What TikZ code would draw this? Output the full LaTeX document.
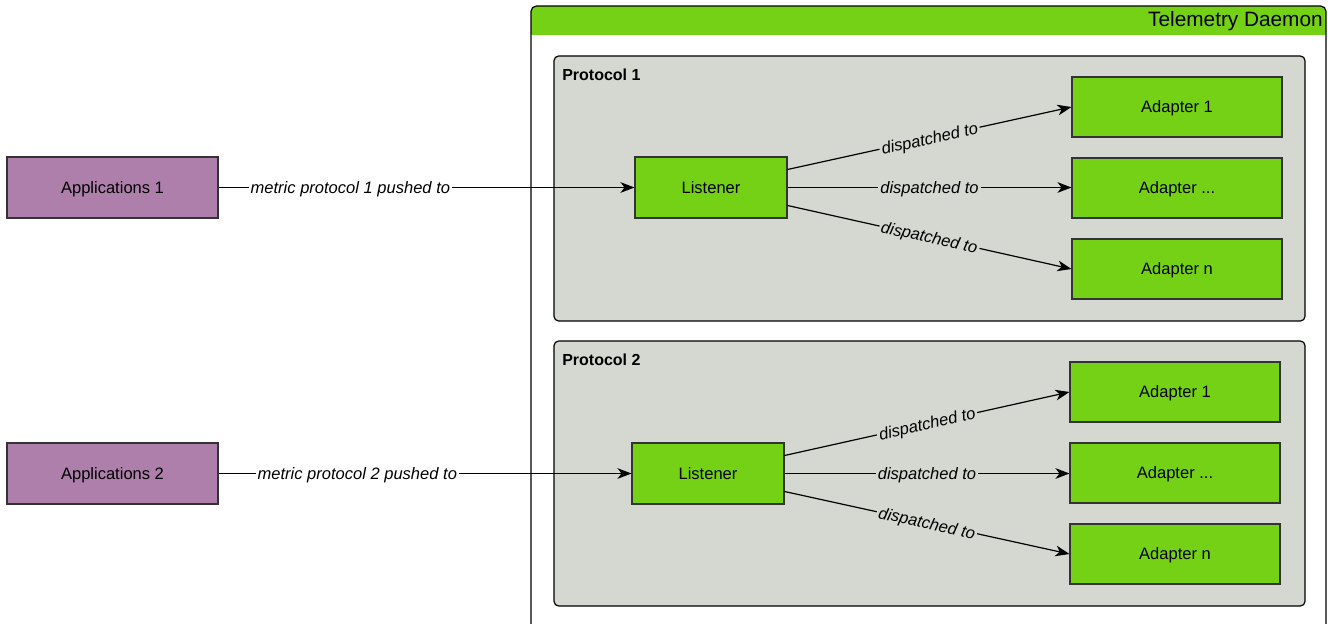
\documentclass[tikz,border=0pt]{standalone}
\usepackage{fontspec}
\setmainfont{Liberation Sans}
\usetikzlibrary{arrows.meta,calc}
\definecolor{appc}{RGB}{174,127,170}
\definecolor{grn}{RGB}{116,209,21}
\definecolor{protoc}{RGB}{212,216,208}
\begin{document}
\begin{tikzpicture}[x=0.75pt,y=-0.75pt,
  font=\fontsize{12.4}{14}\selectfont,
  appbox/.style={draw=black!80, line width=0.8pt, fill=appc, minimum width=158.25pt, minimum height=45.75pt, inner sep=0pt, text depth=0pt},
  lisbox/.style={draw=black!80, line width=0.8pt, fill=grn, minimum width=114pt, minimum height=45.75pt, inner sep=0pt, text depth=0pt},
  adbox/.style={draw=black!80, line width=0.8pt, fill=grn, minimum width=157.5pt, minimum height=45pt, inner sep=0pt, text depth=0pt},
  protobox/.style={draw=black, line width=0.9pt, fill=protoc, rounded corners=3.5pt, minimum width=563.25pt, minimum height=198.75pt, inner sep=0pt},
  arr/.style={-{Stealth[length=10.5pt,width=8pt,inset=3pt]}, line width=0.9pt, black},
  dlab/.style={midway, sloped, fill=protoc, inner sep=1.5pt, text depth=0pt, font=\fontsize{12.4}{14}\selectfont\itshape},
  mlab/.style={pos=#1, fill=white, inner sep=1.5pt, text depth=0pt, font=\fontsize{12.4}{14}\selectfont\itshape},
]
\useasboundingbox (0,0) rectangle (1328,624);
\fill[white] (0,0) rectangle (1328,624);
\clip (0,0) rectangle (1328,624);

% outer daemon box
\begin{scope}
  \clip[rounded corners=4pt] (531,6) rectangle (1326,660);
  \fill[grn] (531,6) rectangle (1326,35);
\end{scope}
\draw[line width=0.9pt, rounded corners=4pt] (531,6) rectangle (1326,660);
\node[anchor=east, inner sep=0pt, font=\fontsize{15.6}{18}\selectfont] (title) at (1323,21) {Telemetry Daemon};

% protocol containers
\node[protobox] (p1) at (929.5,188.5) {};
\node[protobox] (p2) at (929.5,473.5) {};
\node[anchor=west, inner sep=0pt, font=\fontsize{12}{14}\selectfont\bfseries] (p1lab) at (562,75) {Protocol 1};
\node[anchor=west, inner sep=0pt, font=\fontsize{12}{14}\selectfont\bfseries] (p2lab) at (562,360) {Protocol 2};

% applications
\node[appbox] (app1) at (112.5,187.5) {Applications 1};
\node[appbox] (app2) at (112.5,473.5) {Applications 2};

% listeners
\node[lisbox] (lis1) at (711,187.5) {Listener};
\node[lisbox] (lis2) at (708,473.5) {Listener};

% adapters
\node[adbox] (a11) at (1177,107) {Adapter 1};
\node[adbox] (a12) at (1177,188) {Adapter ...};
\node[adbox] (a1n) at (1177,269) {Adapter n};
\node[adbox] (a21) at (1175,392) {Adapter 1};
\node[adbox] (a22) at (1175,473) {Adapter ...};
\node[adbox] (a2n) at (1175,554) {Adapter n};

% connectors
\draw[arr] (app1.east) -- node[mlab=0.317] {metric protocol 1 pushed to} (lis1.west);
\draw[arr] (app2.east) -- node[mlab=0.336] {metric protocol 2 pushed to} (lis2.west);

\draw[arr] ($(lis1.east)+(0,-18)$) -- node[dlab] {dispatched to} (a11.west);
\draw[arr] (lis1.east) -- node[dlab] {dispatched to} (lis1.east -| a12.west);
\draw[arr] ($(lis1.east)+(0,18)$) -- node[dlab] {dispatched to} (a1n.west);

\draw[arr] ($(lis2.east)+(0,-18)$) -- node[dlab] {dispatched to} (a21.west);
\draw[arr] (lis2.east) -- node[dlab] {dispatched to} (lis2.east -| a22.west);
\draw[arr] ($(lis2.east)+(0,18)$) -- node[dlab] {dispatched to} (a2n.west);
\end{tikzpicture}
\end{document}
